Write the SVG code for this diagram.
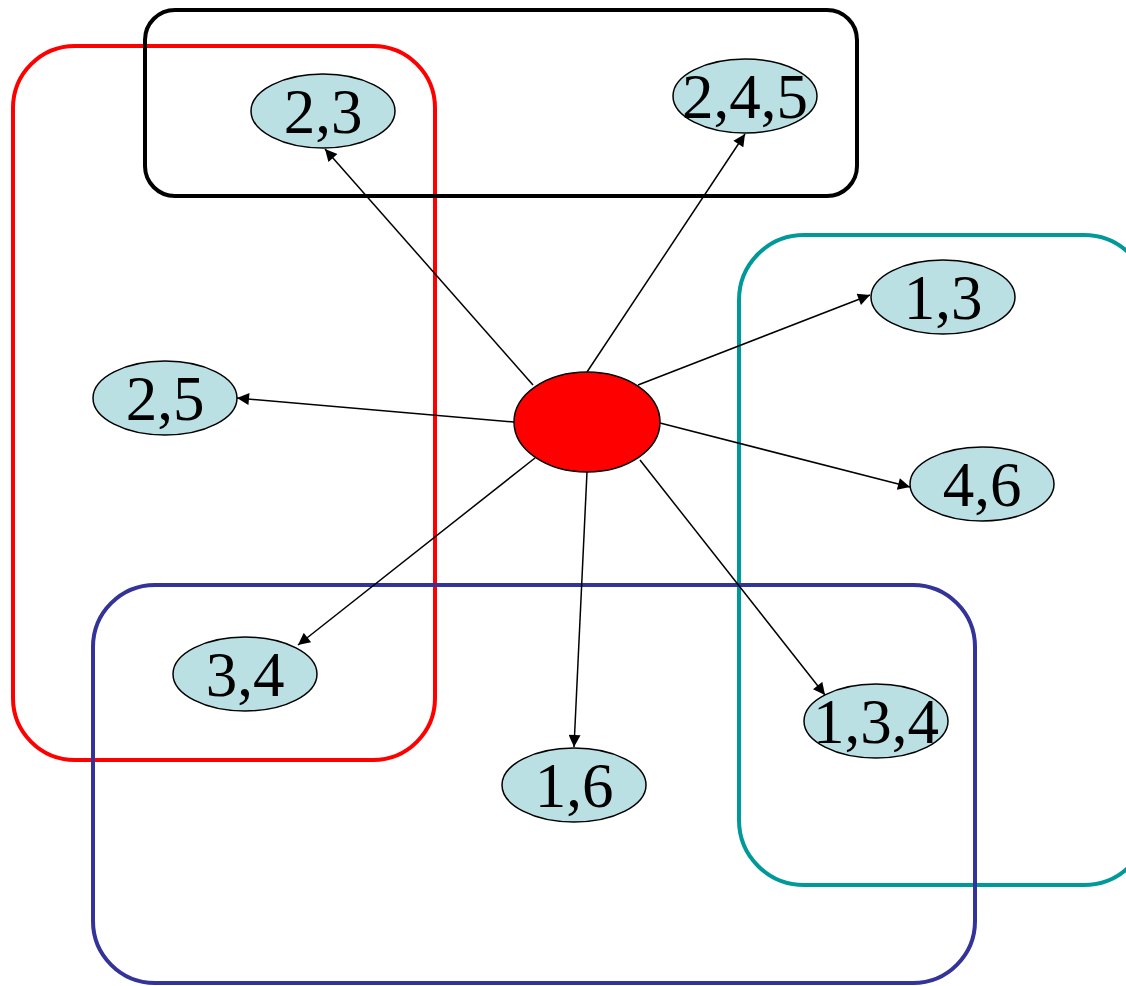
<svg xmlns="http://www.w3.org/2000/svg" width="1126" height="986" viewBox="0 0 1126 986">
  <style>
    .grp { fill: none; stroke-width: 4; }
    .node ellipse { fill: #BBE0E3; stroke: #000; stroke-width: 1.5; }
    .node text { font-family: "Liberation Serif", "Times New Roman", serif; font-size: 63px; text-anchor: middle; fill: #000; }
    .edge { stroke: #000; stroke-width: 1.5; fill: none; marker-end: url(#arrow); }
  </style>
  <defs>
    <marker id="arrow" viewBox="0 0 10 10" refX="10" refY="5" markerWidth="13" markerHeight="12" markerUnits="userSpaceOnUse" orient="auto">
      <path d="M0,0 L10,5 L0,10 z" fill="#000"/>
    </marker>
  </defs>
  <rect width="1126" height="986" fill="#fff"/>

  <!-- group outlines -->
  <g id="groups">
    <rect class="grp" x="13" y="46" width="422" height="714" rx="62" stroke="#FF0000"/>
    <rect class="grp" x="145" y="10" width="712" height="186" rx="30" stroke="#000"/>
    <rect class="grp" x="739" y="235" width="410" height="650" rx="65" stroke="#009999"/>
    <rect class="grp" x="93" y="585" width="882" height="398" rx="62" stroke="#333399"/>
  </g>

  <!-- connectors -->
  <g id="edges">
    <line class="edge" x1="533" y1="385" x2="325" y2="149"/>
    <line class="edge" x1="587" y1="372" x2="745" y2="134"/>
    <line class="edge" x1="638" y1="385" x2="870" y2="295"/>
    <line class="edge" x1="514" y1="422" x2="237" y2="398"/>
    <line class="edge" x1="660" y1="423" x2="910" y2="487"/>
    <line class="edge" x1="535" y1="458" x2="298" y2="645"/>
    <line class="edge" x1="587" y1="472" x2="574" y2="747"/>
    <line class="edge" x1="640" y1="460" x2="825" y2="695"/>
  </g>

  <g id="center">
    <ellipse cx="587" cy="422" rx="73" ry="50" fill="#FF0000" stroke="#000" stroke-width="1.5"/>
  </g>

  <g id="n23" class="node"><ellipse cx="323" cy="111" rx="72" ry="37"/><text x="323" y="133">2,3</text></g>
  <g id="n245" class="node"><ellipse cx="745" cy="96" rx="72" ry="37"/><text x="745" y="118">2,4,5</text></g>
  <g id="n13" class="node"><ellipse cx="943" cy="297" rx="72" ry="37"/><text x="943" y="319">1,3</text></g>
  <g id="n25" class="node"><ellipse cx="165" cy="398" rx="72" ry="37"/><text x="165" y="420">2,5</text></g>
  <g id="n46" class="node"><ellipse cx="982" cy="484" rx="72" ry="37"/><text x="982" y="506">4,6</text></g>
  <g id="n34" class="node"><ellipse cx="245" cy="674" rx="72" ry="37"/><text x="245" y="696">3,4</text></g>
  <g id="n134" class="node"><ellipse cx="876" cy="721" rx="72" ry="37"/><text x="876" y="743">1,3,4</text></g>
  <g id="n16" class="node"><ellipse cx="574" cy="785" rx="72" ry="37"/><text x="574" y="807">1,6</text></g>
</svg>
